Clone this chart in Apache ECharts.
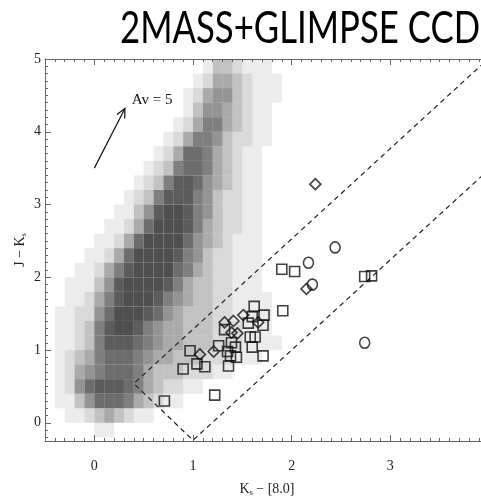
<!DOCTYPE html>
<html>
<head>
<meta charset="utf-8">
<script src="https://cdn.jsdelivr.net/npm/echarts@6/dist/echarts.min.js"></script>
<style>
  html, body { margin: 0; padding: 0; background: #fff; }
  #chart { width: 481px; height: 498px; }
</style>
</head>
<body>
<div id="chart"></div>
<script>
// tick labels
var xTicks = [0, 1, 2, 3];
var yTicks = [0, 1, 2, 3, 4, 5];

// YSOs  [Ks-[8.0], J-Ks]
var squares = [
  [0.71, 0.30], [1.22, 0.38], [0.90, 0.74], [0.97, 0.99], [1.04, 0.81], [1.12, 0.77],
  [1.26, 1.06], [1.35, 0.98], [1.38, 0.92], [1.36, 0.78], [1.43, 1.04], [1.44, 0.90],
  [1.39, 1.10], [1.32, 1.28], [1.56, 1.37], [1.60, 1.46], [1.62, 1.60], [1.72, 1.48],
  [1.71, 1.34], [1.58, 1.18], [1.63, 1.18], [1.60, 1.04], [1.71, 0.92], [1.90, 2.11],
  [2.03, 2.08], [1.91, 1.54], [2.74, 2.01], [2.81, 2.02]
];
var diamonds = [
  [1.07, 0.94], [1.21, 0.98], [1.32, 1.38], [1.41, 1.40], [1.39, 1.24], [1.45, 1.23],
  [1.51, 1.48], [1.66, 1.38], [2.15, 1.84], [2.24, 3.28]
];
var circles = [[2.17, 2.20], [2.21, 1.90], [2.44, 2.41], [2.74, 1.10]];

// dashed selection wedge
var wedgeX = [3.95, 0.40, 1.00, 3.95];
var wedgeY = [4.95, 0.54, -0.24, 3.42];

// reddening vector
var arrowFrom = [0.0, 3.50];
var arrowTo = [0.31, 4.32];
var avLabel = [0.38, 4.43];

// field stars: density (0-9) per cell of 0.1 x 0.2, rows = [yLow, xStart, digits]
var fieldRows = [
  [4.8, 1.1, '1332111'],
  [4.6, 1.0, '124432111'],
  [4.4, 0.9, '1245532111'],
  [4.2, 0.9, '135543211'],
  [4.0, 0.8, '1246643211'],
  [3.8, 0.7, '12466532211'],
  [3.6, 0.6, '12477643211'],
  [3.4, 0.5, '123677643211'],
  [3.2, 0.4, '1236887543211'],
  [3.0, 0.3, '12368886532211'],
  [2.8, 0.2, '113589986532211'],
  [2.6, 0.1, '1124799986432211'],
  [2.4, 0.0, '11247999975432111'],
  [2.2, -0.1, '112479999865322111'],
  [2.0, -0.2, '1124689999764322111'],
  [1.8, -0.3, '11135899998643322111'],
  [1.6, -0.3, '112468999865433221111'],
  [1.4, -0.4, '1122579998754333221111'],
  [1.2, -0.4, '1123689986544333222111'],
  [1.0, -0.4, '11236888765443332221111'],
  [0.8, -0.4, '123467776544333222111'],
  [0.6, -0.4, '124567776433322211'],
  [0.4, -0.4, '125788876432211'],
  [0.2, -0.4, '1135777643211'],
  [0.0, -0.3, '112343211'],
  [-0.2, 0.0, '11']
];

var cells = [];
fieldRows.forEach(function (r) {
  for (var i = 0; i < r[2].length; i++) {
    var d = +r[2][i];
    if (d > 0) cells.push([Math.round((r[1] + i * 0.1) * 10) / 10, r[0], d]);
  }
});
var alphas = [0, 0.1, 0.2, 0.33, 0.46, 0.58, 0.69, 0.79, 0.88, 0.95];

function minorList(a, b) {
  var out = [];
  for (var v = a; v <= b + 1e-9; v += 0.1) out.push(Math.round(v * 10) / 10);
  return out;
}
var xMin = -0.5, xMax = 4.0, yMin = -0.25, yMax = 5;
var axisColor = '#666';
var serif = 'Liberation Serif';

function xAxisDef(pos, major) {
  return {
    type: 'value', position: pos, min: xMin, max: xMax,
    axisLine: { show: !major, onZero: false, lineStyle: { color: axisColor, width: 1 } },
    axisTick: { inside: true, length: major ? 6 : 3, customValues: major ? xTicks : minorList(-0.5, 4.0),
                lineStyle: { color: axisColor } },
    axisLabel: { show: major && pos === 'bottom', customValues: xTicks, margin: 18,
                 fontFamily: serif, fontSize: 14, color: '#222' },
    splitLine: { show: false }
  };
}
function yAxisDef(major) {
  return {
    type: 'value', position: 'left', min: yMin, max: yMax,
    axisLine: { show: !major, onZero: false, lineStyle: { color: axisColor, width: 1 } },
    axisTick: { inside: true, length: major ? 6 : 3, customValues: major ? yTicks : minorList(-0.2, 5.0),
                lineStyle: { color: axisColor } },
    axisLabel: { show: major, customValues: yTicks, margin: 4,
                 fontFamily: serif, fontSize: 14, color: '#222' },
    splitLine: { show: false }
  };
}

var subRich = { s: { fontFamily: serif, fontSize: 8, verticalAlign: 'bottom', padding: [8, 0, 0, 0] } };
var xa = [xAxisDef('bottom', false), xAxisDef('bottom', true), xAxisDef('top', false), xAxisDef('top', true)];
xa[1].name = 'K{s|s} − [8.0]';
xa[1].nameLocation = 'middle';
xa[1].nameGap = 40;
xa[1].nameMoveOverlap = false;
xa[1].nameTextStyle = { fontFamily: serif, fontSize: 14, color: '#222', rich: subRich };
var ya = [yAxisDef(false), yAxisDef(true)];
ya[1].name = 'J − K{s|s}';
ya[1].nameLocation = 'middle';
ya[1].nameRotate = 90;
ya[1].nameGap = 17;
ya[1].nameMoveOverlap = false;
ya[1].nameTextStyle = { fontFamily: serif, fontSize: 14, color: '#222', rich: subRich };

function openSymbol(sym, size, data) {
  return {
    type: 'scatter', symbol: sym, symbolSize: size, data: data, z: 5,
    itemStyle: { color: 'rgba(0,0,0,0)', borderColor: '#111', borderWidth: 1.6 },
    emphasis: { disabled: true }
  };
}

var chart = echarts.init(document.getElementById('chart'));
chart.setOption({
  animation: false,
  backgroundColor: '#fff',
  graphic: [{
    type: 'text', x: 120, y: 7, scaleX: 0.79,
    style: { text: '2MASS+GLIMPSE CCD', font: '44px Lato', fill: '#000', textVerticalAlign: 'top' }
  }],
  grid: { left: 45, top: 59, right: -8, bottom: 57, outerBoundsMode: 'none', containLabel: false },
  xAxis: xa,
  yAxis: ya,
  series: [
    {
      type: 'custom', data: cells, z: 1, silent: true,
      renderItem: function (params, api) {
        var x = api.value(0), y = api.value(1), d = api.value(2);
        var p0 = api.coord([x, y + 0.2]);
        var p1 = api.coord([x + 0.1, y]);
        return {
          type: 'rect',
          shape: { x: p0[0], y: p0[1], width: p1[0] - p0[0], height: p1[1] - p0[1] },
          style: { fill: 'rgba(70,70,70,' + alphas[d] + ')' }
        };
      }
    },
    {
      type: 'line', data: wedgeX.map(function (v, i) { return [v, wedgeY[i]]; }),
      symbol: 'none', z: 3, silent: true,
      lineStyle: { color: '#222', width: 1.2, type: [5, 4] }
    },
    openSymbol('rect', 10, squares),
    openSymbol('diamond', 11, diamonds),
    openSymbol('circle', [10, 11], circles),
    {
      type: 'custom', data: [[arrowFrom[0], arrowFrom[1], arrowTo[0], arrowTo[1]]], z: 6, silent: true,
      renderItem: function (params, api) {
        var a = api.coord([api.value(0), api.value(1)]);
        var b = api.coord([api.value(2), api.value(3)]);
        var ang = Math.atan2(a[1] - b[1], a[0] - b[0]);
        var L = 10, w = 0.45;
        var w1 = [b[0] + L * Math.cos(ang + w), b[1] + L * Math.sin(ang + w)];
        var w2 = [b[0] + L * Math.cos(ang - w), b[1] + L * Math.sin(ang - w)];
        var t = api.coord(avLabel);
        return {
          type: 'group',
          children: [
            { type: 'polyline', shape: { points: [a, b] }, style: { stroke: '#111', lineWidth: 1.2, fill: null } },
            { type: 'polyline', shape: { points: [w1, b, w2] }, style: { stroke: '#111', lineWidth: 1.2, fill: null } },
            { type: 'text', x: t[0], y: t[1],
              style: { text: 'Av = 5', font: '15px "Liberation Serif"', fill: '#111', textVerticalAlign: 'middle' } }
          ]
        };
      }
    }
  ]
});
</script>
</body>
</html>
